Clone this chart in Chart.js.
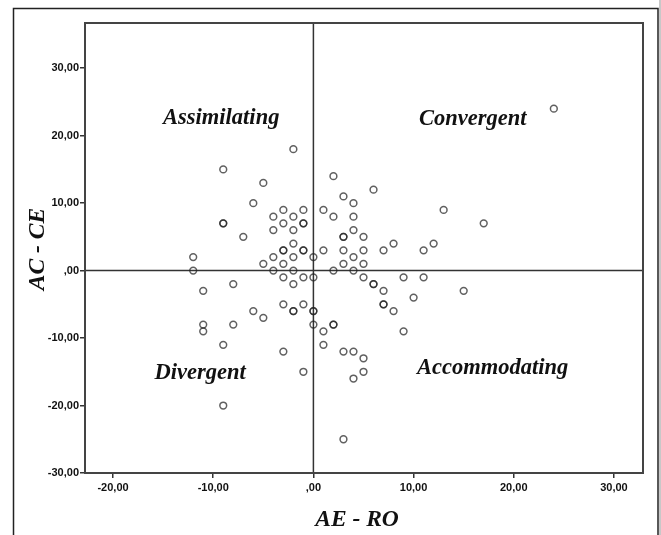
<!DOCTYPE html>
<html>
<head>
<meta charset="utf-8">
<script src="https://cdn.jsdelivr.net/npm/chart.js@4/dist/chart.umd.min.js"></script>
<style>
  html, body { margin: 0; padding: 0; background: #fff; }
  #wrap { width: 661px; height: 535px; position: relative; }
</style>
</head>
<body>
<div id="wrap"><canvas id="scatter"></canvas></div>
<script>
// AE - RO (x) and AC - CE (y) scores, one entry per respondent
const aeRo = [
  -2, -9, -5, -6, -3, -1, -4, -2, -3, -1, -1, -9, -9, -4, -2, -7, -2, -3, -3, -1, -1, -4, -2, -12, -5, -3,
  0, 0, 0, 0, 0,
  -12, -4, -2, 2, 4,
  24, 2, 6, 3, 4, 1, 13, 2, 4, 17, 4, 3, 3, 5, 8, 12, 1, 3, 5, 7, 11, 4, 3, 5,
  -3, -1, -2, -8, -11, -3, -1, -6, -2, -2, -5, -11, -8, -11, -9, -3, -1, -9,
  5, 9, 11, 6, 6, 7, 15, 10, 7, 7, 8, 2, 2, 1, 9, 1, 3, 4, 5, 5, 4, 3
];
const acCe = [
  18, 15, 13, 10, 9, 9, 8, 8, 7, 7, 7, 7, 7, 6, 6, 5, 4, 3, 3, 3, 3, 2, 2, 2, 1, 1,
  2, -1, -6, -6, -8,
  0, 0, 0, 0, 0,
  24, 14, 12, 11, 10, 9, 9, 8, 8, 7, 6, 5, 5, 5, 4, 4, 3, 3, 3, 3, 3, 2, 1, 1,
  -1, -1, -2, -2, -3, -5, -5, -6, -6, -6, -7, -8, -8, -9, -11, -12, -15, -20,
  -1, -1, -1, -2, -2, -3, -3, -4, -5, -5, -6, -8, -8, -9, -9, -11, -12, -12, -13, -15, -16, -25
];

const xTicks = [-20, -10, 0, 10, 20, 30];
const yTicks = [-30, -20, -10, 0, 10, 20, 30];

// quadrant names and where they sit (in data units)
const quadNames = ["Assimilating", "Convergent", "Divergent", "Accommodating"];
const quadX = [-9.2, 15.9, -11.3, 17.9];
const quadY = [22.6, 22.5, -15.2, -14.4];

const points = aeRo.map((x, i) => ({ x: x, y: acCe[i] }));

// SPSS style numbers: "-10,00", ",00"
function spssFmt(v) {
  if (v === 0) return ",00";
  return v.toFixed(2).replace(".", ",");
}

const framePlugin = {
  id: "frame",
  beforeDatasetsDraw(chart) {
    const { ctx, chartArea: a, scales } = chart;
    ctx.save();
    // outer border of the figure
    ctx.strokeStyle = "#222";
    ctx.lineWidth = 1.5;
    ctx.beginPath();
    ctx.moveTo(13.5, 540);
    ctx.lineTo(13.5, 8.5);
    ctx.lineTo(658, 8.5);
    ctx.lineTo(658, 540);
    ctx.stroke();
    ctx.fillStyle = "#c8c8c8";
    ctx.fillRect(659, 0, 2, 535);

    // reference lines through zero
    const x0 = scales.x.getPixelForValue(0);
    const y0 = scales.y.getPixelForValue(0);
    ctx.strokeStyle = "#333";
    ctx.lineWidth = 1.5;
    ctx.beginPath();
    ctx.moveTo(x0, a.top);
    ctx.lineTo(x0, a.bottom);
    ctx.moveTo(a.left, y0);
    ctx.lineTo(a.right, y0);
    ctx.stroke();

    // plot frame
    ctx.strokeStyle = "#444";
    ctx.lineWidth = 2;
    ctx.strokeRect(a.left, a.top, a.right - a.left, a.bottom - a.top);
    ctx.restore();
  },
  afterDatasetsDraw(chart) {
    const { ctx, scales } = chart;
    ctx.save();
    ctx.fillStyle = "#111";
    ctx.textAlign = "center";
    ctx.textBaseline = "middle";
    ctx.font = "italic bold 22.5px 'Liberation Serif', 'Times New Roman', serif";
    quadNames.forEach((name, i) => {
      ctx.fillText(name, scales.x.getPixelForValue(quadX[i]), scales.y.getPixelForValue(quadY[i]));
    });

    // axis titles
    ctx.font = "italic bold 23.5px 'Liberation Serif', 'Times New Roman', serif";
    ctx.fillText("AE - RO", 357, 520);
    ctx.translate(38, 249);
    ctx.rotate(-Math.PI / 2);
    ctx.fillText("AC - CE", 0, 0);
    ctx.restore();
  }
};

const tickFont = { family: "'Liberation Sans', Arial, sans-serif", size: 11, weight: "bold" };

new Chart(document.getElementById("scatter"), {
  type: "scatter",
  data: {
    datasets: [{
      data: points,
      pointStyle: "circle",
      pointRadius: 3.4,
      borderWidth: 1.5,
      borderColor: "rgba(35,35,35,0.72)",
      backgroundColor: "rgba(0,0,0,0)"
    }]
  },
  options: {
    responsive: true,
    maintainAspectRatio: false,
    animation: false,
    layout: { padding: { top: 23, right: 18, left: 0, bottom: 0 } },
    plugins: { legend: { display: false }, tooltip: { enabled: false } },
    scales: {
      x: {
        type: "linear",
        min: -22.8,
        max: 32.9,
        afterFit: s => { s.height = 62; },
        afterBuildTicks: s => { s.ticks = xTicks.map(v => ({ value: v })); },
        grid: { drawOnChartArea: false, drawTicks: true, tickLength: 5, color: "#333", lineWidth: 1.5 },
        border: { display: false },
        ticks: { font: tickFont, color: "#111", padding: 3, maxRotation: 0, callback: v => spssFmt(v) }
      },
      y: {
        type: "linear",
        min: -30,
        max: 36.7,
        afterFit: s => { s.width = 85; },
        afterBuildTicks: s => { s.ticks = yTicks.map(v => ({ value: v })); },
        grid: { drawOnChartArea: false, drawTicks: true, tickLength: 5, color: "#333", lineWidth: 1.5 },
        border: { display: false },
        ticks: { font: tickFont, color: "#111", padding: 1, callback: v => spssFmt(v) }
      }
    }
  },
  plugins: [framePlugin]
});
</script>
</body>
</html>
